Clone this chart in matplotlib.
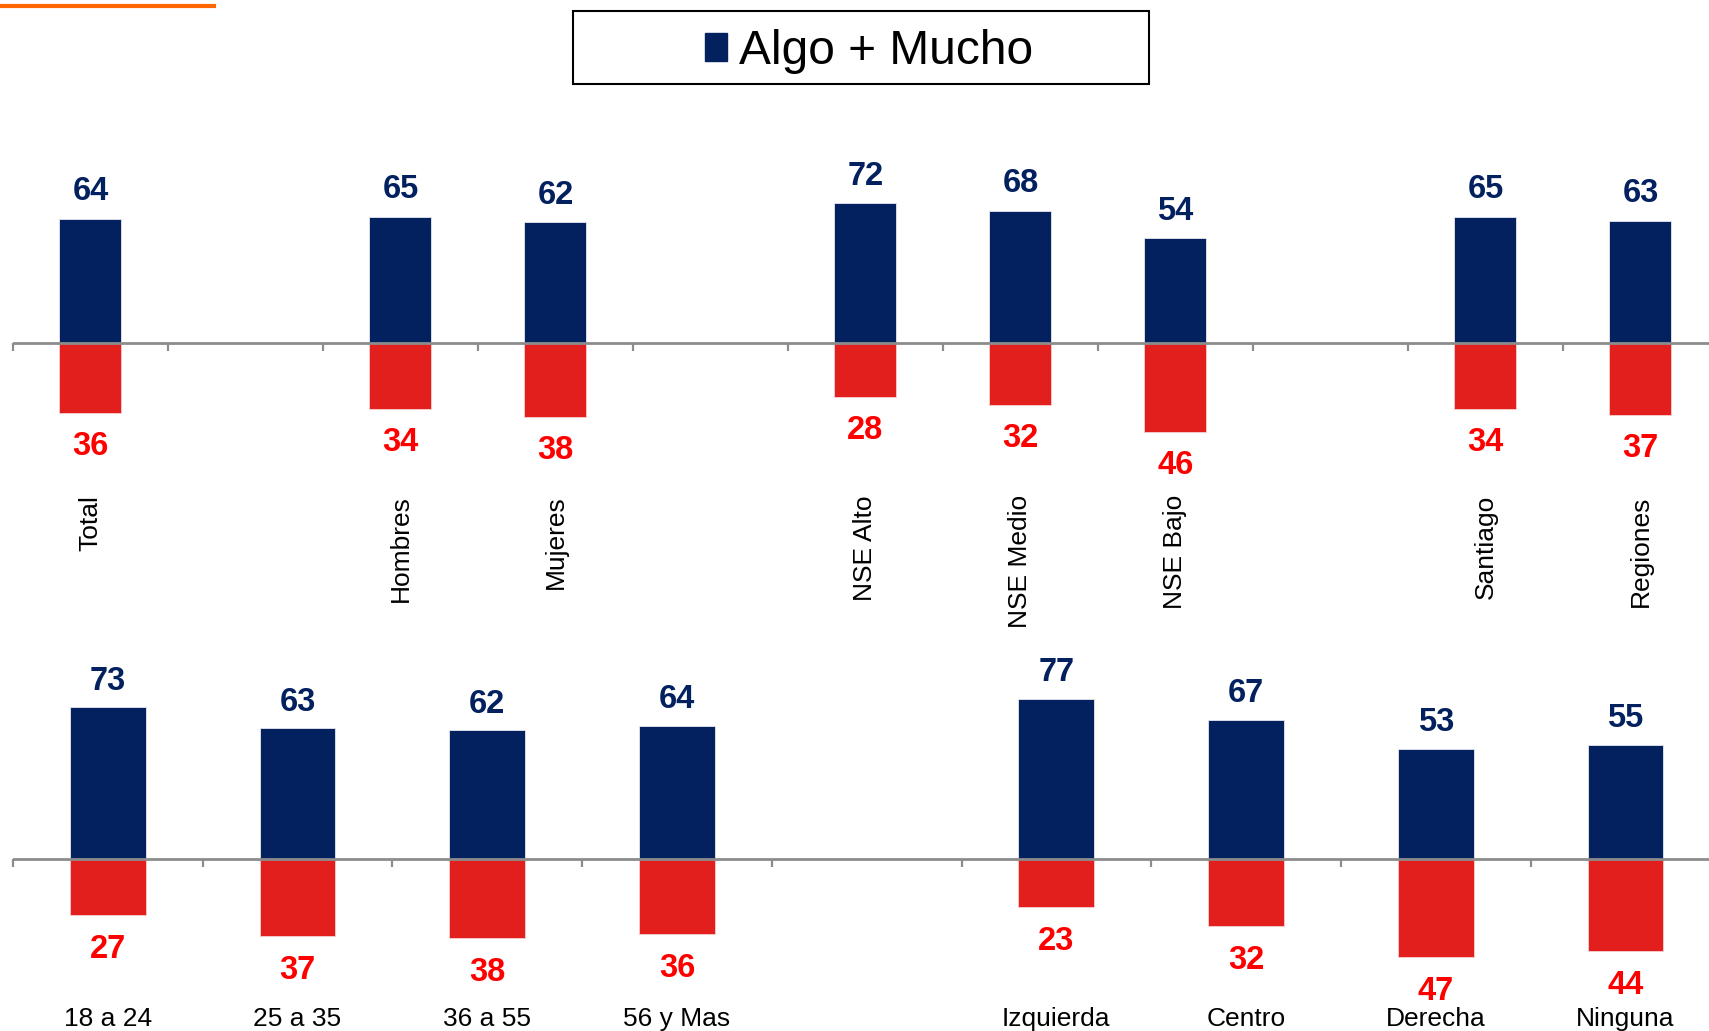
import matplotlib
matplotlib.use("Agg")
import matplotlib.pyplot as plt
from matplotlib.patches import Patch, Rectangle
from matplotlib.lines import Line2D

plt.rcParams['font.family'] = ['Liberation Sans', 'DejaVu Sans']

# ---- data ----
top_categories = ['Total', '', 'Hombres', 'Mujeres', '', 'NSE Alto', 'NSE Medio',
                  'NSE Bajo', '', 'Santiago', 'Regiones']
top_pos = [64, None, 65, 62, None, 72, 68, 54, None, 65, 63]
top_neg = [36, None, 34, 38, None, 28, 32, 46, None, 34, 37]

bot_categories = ['18 a 24', '25 a 35', '36 a 55', '56 y Mas', '', 'Izquierda',
                  'Centro', 'Derecha', 'Ninguna']
bot_pos = [73, 63, 62, 64, None, 77, 67, 53, 55]
bot_neg = [27, 37, 38, 36, None, 23, 32, 47, 44]

legend_label = 'Algo + Mucho'

NAVY = '#03205F'
RED_BAR = '#E21F1C'
RED_TXT = '#FF0000'
GRAY = '#8C8C8C'

W, H = 1709, 1031
fig = plt.figure(figsize=(W / 100, H / 100), dpi=100)


def make_axes(zero_px, scale, ymin, ymax, left_px, slot_px, n):
    top_px = zero_px - ymax * scale
    bot_px = zero_px - ymin * scale
    ax = fig.add_axes([left_px / W, 1 - bot_px / H, n * slot_px / W, (bot_px - top_px) / H])
    ax.set_ylim(ymin, ymax)
    ax.set_xlim(-0.5, n - 0.5)
    return ax


def draw_panel(ax, scale, cats, pos, neg, off_pos, off_neg, cat_y, rotated):
    n = len(cats)
    xs = [i for i in range(n) if pos[i] is not None]
    pv = [pos[i] for i in xs]
    nv = [-neg[i] for i in xs]
    ax.bar(xs, pv, width=0.40, color=NAVY, edgecolor='#E8E8EE', linewidth=0.6, zorder=2)
    ax.bar(xs, nv, width=0.40, color=RED_BAR, edgecolor='#F4D0D0', linewidth=0.6, zorder=2)
    for x, p, q in zip(xs, pv, nv):
        ax.text(x, p + off_pos, f'{p}', ha='center', va='center', fontsize=23.5,
                fontweight='bold', color=NAVY)
        ax.text(x, q - off_neg, f'{-q}', ha='center', va='center', fontsize=23.5,
                fontweight='bold', color=RED_TXT)
    for i, c in enumerate(cats):
        if not c:
            continue
        if rotated:
            ax.text(i, cat_y, c, rotation=90, ha='center', va='top', fontsize=19,
                    color='black', clip_on=False)
        else:
            ax.text(i, cat_y, c, ha='center', va='baseline', fontsize=19,
                    color='black', clip_on=False)
    ax.axhline(0, color=GRAY, linewidth=2, zorder=3)
    for s in ax.spines.values():
        s.set_visible(False)
    ax.set_yticks([])
    ax.set_xticks([])
    # small tick marks hanging below the zero line at slot boundaries
    for i in range(n + 1):
        ax.plot([i - 0.5, i - 0.5], [0, -8 / scale], color=GRAY, lw=1.6,
                zorder=3, clip_on=False, solid_capstyle='butt')


S_TOP, S_BOT = 1.944, 2.08
ax_top = make_axes(343, S_TOP, -100, 90, 13, 155, len(top_categories))
ax_bot = make_axes(859.3, S_BOT, -85, 85, 13, 189.7, len(bot_categories))

draw_panel(ax_top, S_TOP, top_categories, top_pos, top_neg, 13.8, 17.2, -78.3, True)
draw_panel(ax_bot, S_BOT, bot_categories, bot_pos, bot_neg, 12.6, 16.6, -80.2, False)

# orange accent line, top-left
fig.add_artist(Line2D([0, 214 / W], [1 - 5.5 / H, 1 - 5.5 / H], color='#FF6600',
                      linewidth=3.0, transform=fig.transFigure))

# legend box
fig.add_artist(Rectangle((573 / W, 1 - 84 / H), 576 / W, 73 / H,
                         transform=fig.transFigure, fill=False, edgecolor='black',
                         linewidth=1.5))
fig.legend(handles=[Patch(color=NAVY)], labels=[legend_label], loc='center',
           bbox_to_anchor=(869 / W, 1 - 51.5 / H), frameon=False, fontsize=34.5,
           handlelength=0.45, handleheight=0.5, handletextpad=0.25)

fig.savefig('out.png', dpi=100)
